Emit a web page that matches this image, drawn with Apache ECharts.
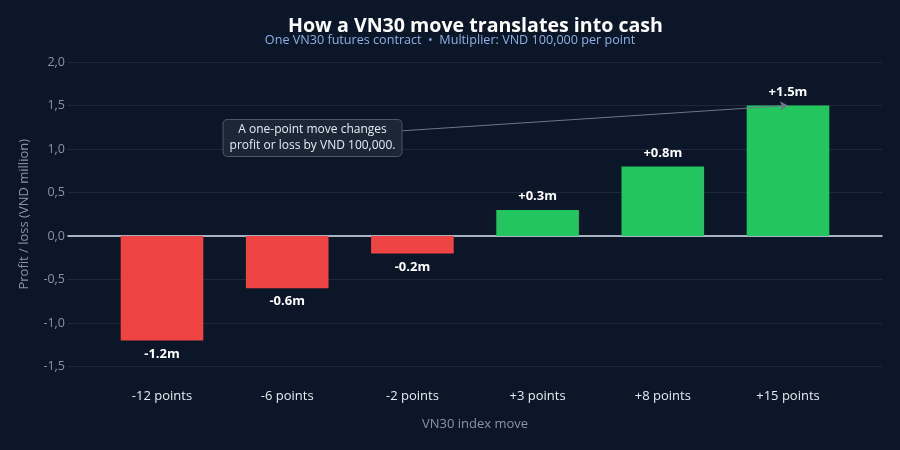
<!DOCTYPE html>
<html>
<head>
<meta charset="utf-8">
<script src="https://cdn.jsdelivr.net/npm/echarts@6/dist/echarts.min.js"></script>
<style>html,body{margin:0;padding:0;background:#0b1628;}#c{width:900px;height:450px;}</style>
</head>
<body>
<div id="c"></div>
<script>
const categories = ['-12 points', '-6 points', '-2 points', '+3 points', '+8 points', '+15 points'];
const pnlMillion = [-1.2, -0.6, -0.2, 0.3, 0.8, 1.5];
const yTicks = { min: -1.5, max: 2.0, interval: 0.5 };
const titleText = 'How a VN30 move translates into cash';
const subtitleText = 'One VN30 futures contract  \u2022  Multiplier: VND 100,000 per point';
const noteText = 'A one-point move changes\nprofit or loss by VND 100,000.';

const FONT = '"Open Sans", "Noto Sans", sans-serif';
const chart = echarts.init(document.getElementById('c'), null, { renderer: 'canvas' });

const barData = pnlMillion.map(v => ({
  value: v,
  itemStyle: { color: v < 0 ? '#ef4444' : '#22c55e' },
  label: { position: v < 0 ? 'bottom' : 'top' }
}));

chart.setOption({
  backgroundColor: '#0b1628',
  animation: false,
  title: [
    { text: titleText, left: 283, top: 11, textStyle: { color: '#ffffff', fontSize: 19.6, fontWeight: 'bold', fontFamily: FONT } },
    { text: subtitleText, left: 'center', top: 29, textStyle: { color: '#8fb0e6', fontSize: 12.6, fontWeight: 'normal', fontFamily: FONT } }
  ],
  grid: [
    { left: 68, right: 18, top: 62, bottom: 83.5 },
    { left: 99.4, right: 49.4, top: 62, bottom: 83.5 }
  ],
  xAxis: [
    { type: 'value', gridIndex: 0, min: 0, max: 1, axisLabel: { show: false }, axisTick: { show: false }, splitLine: { show: false },
      axisLine: { show: true, onZero: true, lineStyle: { color: '#dbe3ee', width: 1.5 } } },
    { type: 'category', gridIndex: 1, data: categories, axisLine: { show: false }, axisTick: { show: false },
      name: 'VN30 index move', nameLocation: 'middle', nameGap: 51,
      nameTextStyle: { color: '#8a94a6', fontSize: 13, fontFamily: FONT },
      axisLabel: { color: '#e6ebf2', fontSize: 13, fontFamily: FONT, margin: 23 } }
  ],
  yAxis: [
    { type: 'value', gridIndex: 0, min: yTicks.min, max: yTicks.max, interval: yTicks.interval,
      name: 'Profit / loss (VND million)', nameLocation: 'middle', nameGap: 37, nameRotate: 90,
      nameTextStyle: { color: '#8a94a6', fontSize: 13, fontFamily: FONT },
      axisLine: { show: false }, axisTick: { show: false },
      axisLabel: { color: '#8a94a6', fontSize: 12.5, fontFamily: FONT, margin: 3,
        formatter: v => v.toFixed(1).replace('.', ',') },
      splitLine: { lineStyle: { color: '#1e2a3c', width: 1 } } },
    { type: 'value', gridIndex: 1, min: yTicks.min, max: yTicks.max, interval: yTicks.interval, show: false }
  ],
  series: [
    {
      type: 'bar', xAxisIndex: 1, yAxisIndex: 1, barWidth: '66%', data: barData, z: 2,
      label: { show: true, distance: 7, color: '#ffffff', fontSize: 13, fontWeight: 'bold', fontFamily: FONT,
        formatter: p => (p.value > 0 ? '+' : '') + p.value.toFixed(1) + 'm' },
      markLine: {
        silent: true, animation: false,
        label: { show: false },
        lineStyle: { color: '#6b7788', width: 1, type: 'solid' },
        symbolSize: [7, 8],
        data: [[
          { x: 399, y: 131, symbol: 'none' },
          { coord: [categories.length - 1, pnlMillion[pnlMillion.length - 1]], symbol: 'arrow' }
        ]]
      }
    }
  ],
  graphic: [
    { type: 'text', x: 312.5, y: 138, z: 10,
      style: { text: noteText, fill: '#e6ebf2', font: '12px ' + FONT, align: 'center', verticalAlign: 'middle', lineHeight: 16,
        backgroundColor: '#1b2637', borderColor: '#4b5868', borderWidth: 1, borderRadius: 4,
        padding: [2, 6, 2, 6] } }
  ]
});
</script>
</body>
</html>
